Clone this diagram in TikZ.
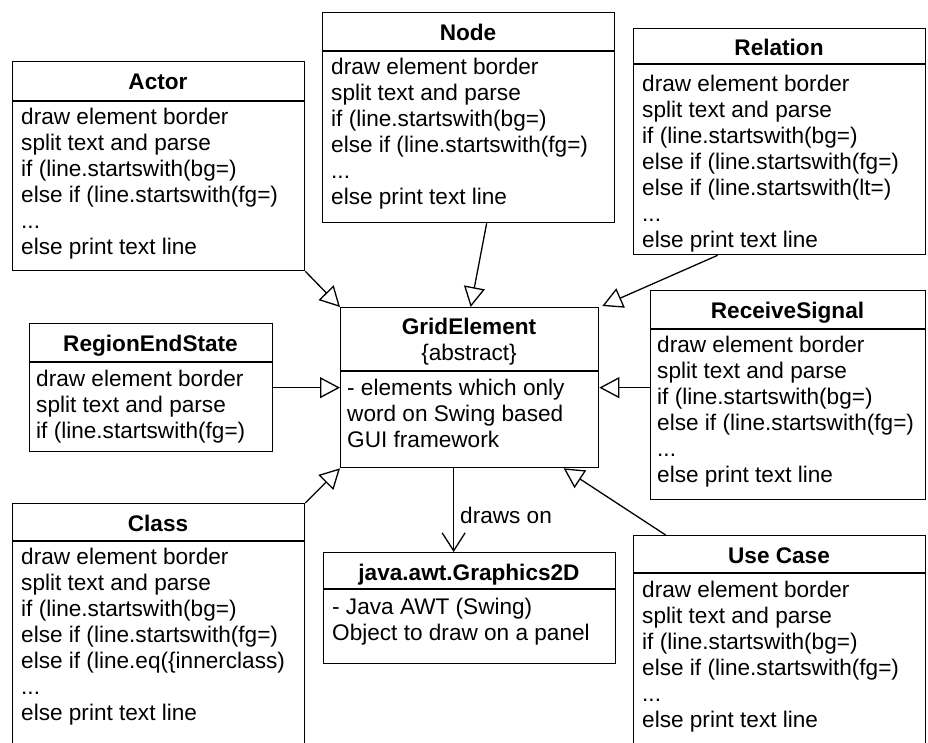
\documentclass[tikz,border=0pt]{standalone}
\usepackage{fontspec}
\setmainfont{Liberation Sans}
\usetikzlibrary{arrows.meta,calc}
\tikzset{
  umlbox/.style={draw, line width=1.3pt, inner sep=0pt, anchor=north west, fill=white},
  sepline/.style={line width=1.3pt},
  classname/.style={font=\fontsize{22.6}{26}\selectfont\bfseries, inner sep=0pt, anchor=base},
  bodytext/.style={font=\fontsize{22.6}{26}\selectfont, inner sep=0pt, anchor=north west, align=left, yshift=18.2pt},
  inherit/.style={line width=1.3pt, -{Triangle[open,length=20pt,width=21pt]}},
  uses/.style={line width=1.3pt, -{Straight Barb[length=18pt,width=23pt]}},
}
\begin{document}
\begin{tikzpicture}[x=1pt,y=-1pt]
\useasboundingbox (0,0) rectangle (928,742);
\fill[white] (0,0) rectangle (928,742);
\clip (0,0) rectangle (928,742);

% ---- class boxes ----
\node[umlbox, minimum width=292pt, minimum height=209pt] (actor) at (12,61) {};
\draw[sepline] ($(actor.north west)+(0,40)$) -- ($(actor.north east)+(0,40)$);
\node[classname] (actorT) at (158,89) {Actor};
\node[bodytext] (actorB) at (21,124) {\strut draw element border\\split text and parse\\if (line.startswith(bg=)\\else if (line.startswith(fg=)\\...\\else print text line};

\node[umlbox, minimum width=292pt, minimum height=210pt] (nodebox) at (322,12) {};
\draw[sepline] ($(nodebox.north west)+(0,39)$) -- ($(nodebox.north east)+(0,39)$);
\node[classname] (nodeT) at (468,40) {Node};
\node[bodytext] (nodeB) at (331,74) {\strut draw element border\\split text and parse\\if (line.startswith(bg=)\\else if (line.startswith(fg=)\\...\\else print text line};

\node[umlbox, minimum width=292pt, minimum height=226pt] (relation) at (633,28) {};
\draw[sepline] ($(relation.north west)+(0,36)$) -- ($(relation.north east)+(0,36)$);
\node[classname] (relationT) at (779,55.5) {Relation};
\node[bodytext] (relationB) at (642,91) {\strut draw element border\\split text and parse\\if (line.startswith(bg=)\\else if (line.startswith(fg=)\\else if (line.startswith(lt=)\\...\\else print text line};

\node[umlbox, minimum width=243pt, minimum height=128pt] (region) at (29,323) {};
\draw[sepline] ($(region.north west)+(0,39)$) -- ($(region.north east)+(0,39)$);
\node[classname] (regionT) at (150.5,351) {RegionEndState};
\node[bodytext] (regionB) at (36,386) {\strut draw element border\\split text and parse\\if (line.startswith(fg=)};

\node[umlbox, minimum width=275pt, minimum height=209pt] (receive) at (650,290) {};
\draw[sepline] ($(receive.north west)+(0,39)$) -- ($(receive.north east)+(0,39)$);
\node[classname] (receiveT) at (787.5,318) {ReceiveSignal};
\node[bodytext] (receiveB) at (657,352) {\strut draw element border\\split text and parse\\if (line.startswith(bg=)\\else if (line.startswith(fg=)\\...\\else print text line};

\node[umlbox, minimum width=258pt, minimum height=160pt] (grid) at (340,307) {};
\draw[sepline] ($(grid.north west)+(0,64)$) -- ($(grid.north east)+(0,64)$);
\node[bodytext, anchor=north, align=center] (gridT) at (469,334) {\strut\bfseries GridElement\\\{abstract\}};
\node[bodytext] (gridB) at (347,395) {\strut - elements which only\\word on Swing based\\GUI framework};

\node[umlbox, minimum width=292pt, minimum height=111pt] (gfx) at (323,552) {};
\draw[sepline] ($(gfx.north west)+(0,37)$) -- ($(gfx.north east)+(0,37)$);
\node[classname] (gfxT) at (469,580) {java.awt.Graphics2D};
\node[bodytext] (gfxB) at (332,614) {\strut - Java AWT (Swing)\\Object to draw on a panel};

\node[umlbox, minimum width=292pt, minimum height=250pt] (class) at (12,503) {};
\draw[sepline] ($(class.north west)+(0,38)$) -- ($(class.north east)+(0,38)$);
\node[classname] (classT) at (158,531) {Class};
\node[bodytext] (classB) at (21,564) {\strut draw element border\\split text and parse\\if (line.startswith(bg=)\\else if (line.startswith(fg=)\\else if (line.eq(\{innerclass)\\...\\else print text line};

\node[umlbox, minimum width=292pt, minimum height=220pt] (usecase) at (633,535) {};
\draw[sepline] ($(usecase.north west)+(0,38)$) -- ($(usecase.north east)+(0,38)$);
\node[classname] (usecaseT) at (779,563) {Use Case};
\node[bodytext] (usecaseB) at (642,597) {\strut draw element border\\split text and parse\\if (line.startswith(bg=)\\else if (line.startswith(fg=)\\...\\else print text line};

% ---- generalisations towards GridElement ----
\draw[inherit] (actor.south east) -- (grid.north west);
\draw[inherit] ([xshift=18pt]nodebox.south) -- ([xshift=1pt]grid.north);
\draw[inherit] ([xshift=-62pt]relation.south) -- ([xshift=3pt,yshift=1pt]grid.north east);
\draw[inherit] (region.east) -- (region.east -| grid.west);
\draw[inherit] (receive.west |- grid.east) -- (grid.east);
\draw[inherit] (class.north east) -- (grid.south west);
\draw[inherit] ([xshift=-114pt]usecase.north) -- ([xshift=94pt]grid.south);

% ---- dependency ----
\coordinate (drawsFrom) at ([xshift=-16pt]grid.south);
\draw[uses] (drawsFrom) -- (drawsFrom |- gfx.north);
\node[font=\fontsize{22.6}{26}\selectfont, inner sep=0pt, anchor=base west] (drawsLbl) at (460,523) {draws on};
\end{tikzpicture}
\end{document}
